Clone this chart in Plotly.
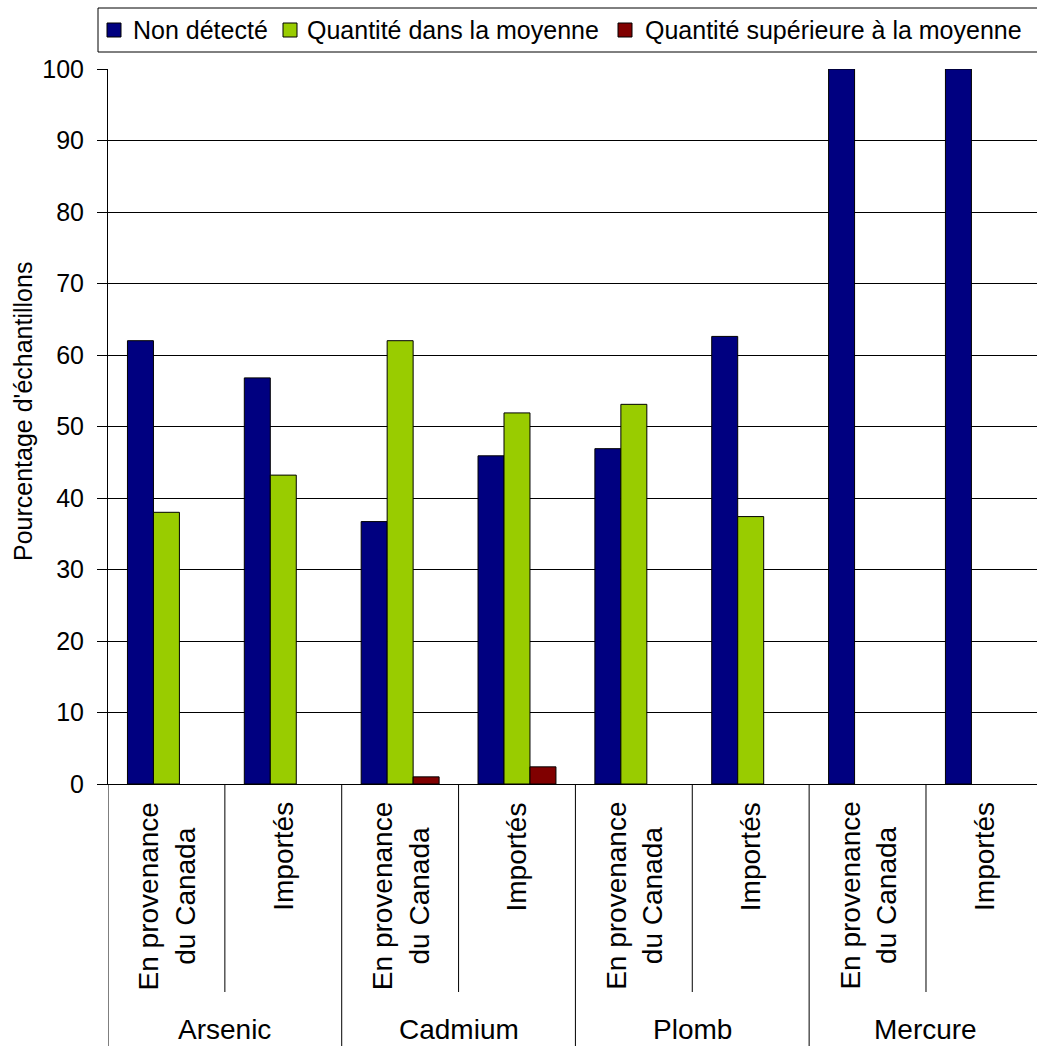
import plotly.graph_objects as go

# ---- data ----
groups = ["Arsenic", "Cadmium", "Plomb", "Mercure"]
origins = ["En provenance<br>du Canada", "Importés"]
series_names = ["Non détecté", "Quantité dans la moyenne", "Quantité supérieure à la moyenne"]
series_colors = ["#000080", "#99CC00", "#800000"]
non_detecte = [62.0, 56.8, 36.7, 45.9, 46.9, 62.6, 100, 100]
dans_moyenne = [38.0, 43.2, 62.0, 51.9, 53.1, 37.4, 0, 0]
superieure = [0, 0, 1.0, 2.4, 0, 0, 0, 0]
y_ticks = list(range(0, 101, 10))
y_title = "Pourcentage d'échantillons"

categories = [f"{g}|{o}" for g in groups for o in origins]
series_values = [non_detecte, dans_moyenne, superieure]

FONT = "Liberation Sans, Arial, sans-serif"
W, H = 1037, 1046
L, T, B = 108, 69, 784  # plot area pixel edges
PW, PH = W - L, B - T


def px_x(px):
    return (px - L) / PW


def px_y(py):
    return (B - py) / PH


fig = go.Figure()
for name, vals, col in zip(series_names, series_values, series_colors):
    fig.add_trace(go.Bar(
        x=categories, y=vals, name=name,
        marker=dict(color=col,
                    line=dict(color="black", width=[1 if v else 0 for v in vals])),
        showlegend=False,
    ))

shapes = []
annotations = []

# category labels and dividers
n = len(categories)
for i, c in enumerate(categories):
    o = c.split("|")[1]
    annotations.append(dict(
        x=c, xref="x", y=px_y(800), yref="paper",
        text=o, textangle=-90, showarrow=False,
        xanchor="center", yanchor="top", align="center",
        font=dict(family=FONT, size=28, color="black"),
    ))
for gi, g in enumerate(groups):
    center = gi * len(origins) + (len(origins) - 1) / 2
    annotations.append(dict(
        x=center, xref="x", y=px_y(1029), yref="paper",
        text=g, showarrow=False, xanchor="center", yanchor="middle",
        font=dict(family=FONT, size=28, color="black"),
    ))
    # group divider (left edge of group)
    x0 = gi * len(origins) - 0.5
    shapes.append(dict(type="line", xref="x", yref="paper",
                       x0=x0, x1=x0, y0=0, y1=px_y(1046),
                       line=dict(color="black", width=1)))
    # inner divider
    xi = gi * len(origins) + 0.5
    shapes.append(dict(type="line", xref="x", yref="paper",
                       x0=xi, x1=xi, y0=0, y1=px_y(992),
                       line=dict(color="black", width=1)))

# legend (drawn manually to match layout)
shapes.append(dict(type="rect", xref="paper", yref="paper",
                   x0=px_x(98), x1=px_x(1045), y0=px_y(52), y1=px_y(8),
                   line=dict(color="black", width=1), fillcolor="white"))
sq_left = [107, 283, 618]
txt_left = [133, 307, 645]
for name, col, sx, tx in zip(series_names, series_colors, sq_left, txt_left):
    shapes.append(dict(type="rect", xref="paper", yref="paper",
                       x0=px_x(sx), x1=px_x(sx + 14), y0=px_y(37), y1=px_y(23),
                       line=dict(color="black", width=1), fillcolor=col))
    annotations.append(dict(
        x=px_x(tx - 2), xref="paper", y=px_y(30), yref="paper",
        text=name, showarrow=False, xanchor="left", yanchor="middle",
        font=dict(family=FONT, size=25, color="black"),
    ))

# y title
annotations.append(dict(
    x=px_x(23), xref="paper", y=px_y(412), yref="paper",
    text=y_title, textangle=-90, showarrow=False,
    xanchor="center", yanchor="middle",
    font=dict(family=FONT, size=25, color="black"),
))

fig.update_layout(
    width=W, height=H,
    margin=dict(l=L, r=0, t=T, b=H - B, pad=0),
    paper_bgcolor="white", plot_bgcolor="white",
    barmode="group", bargap=0.333, bargroupgap=0,
    font=dict(family=FONT, color="black"),
    shapes=shapes, annotations=annotations,
    showlegend=False,
)
fig.update_xaxes(
    type="category", categoryorder="array", categoryarray=categories,
    range=[-0.5, n - 0.5 - 0.05], showticklabels=False, ticks="",
    showgrid=False, showline=True, linecolor="black", linewidth=1,
    zeroline=False,
)
fig.update_yaxes(
    range=[0, 100], tickvals=y_ticks, ticks="outside", ticklen=10,
    tickcolor="black", tickwidth=1, ticklabelstandoff=8,
    tickfont=dict(family=FONT, size=25, color="black"),
    showgrid=True, gridcolor="black", gridwidth=1,
    showline=True, linecolor="black", linewidth=1, zeroline=False,
)

fig.write_html("out.html")
